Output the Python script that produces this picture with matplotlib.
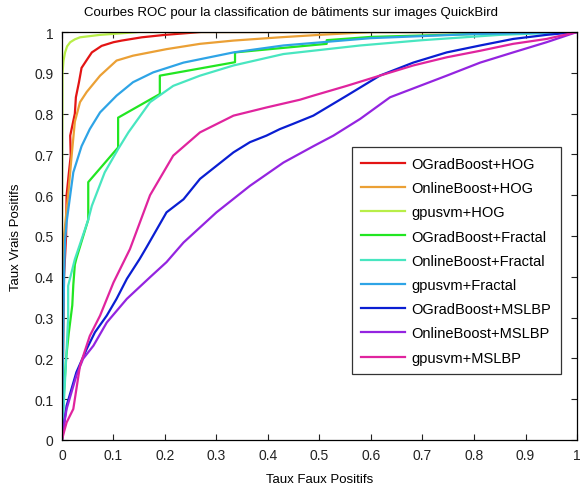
import numpy as np
import matplotlib
matplotlib.use("Agg")
import matplotlib.pyplot as plt

labels = ["OGradBoost+HOG", "OnlineBoost+HOG", "gpusvm+HOG",
          "OGradBoost+Fractal", "OnlineBoost+Fractal", "gpusvm+Fractal",
          "OGradBoost+MSLBP", "OnlineBoost+MSLBP", "gpusvm+MSLBP"]
colors = ["#e31414", "#eba035", "#b8ee48", "#22e622", "#48e6c0",
          "#2ea4e6", "#0a1ed2", "#9424e0", "#e0249e"]

# (false positive rate, true positive rate)
fpr_ograd_hog = [0, 0.002, 0.004, 0.008, 0.009, 0.013, 0.017, 0.016, 0.025, 0.027,
                 0.033, 0.038, 0.05, 0.058, 0.077, 0.1, 0.116, 0.155, 0.2, 0.27, 1.0]
tpr_ograd_hog = [0, 0.2, 0.4, 0.5, 0.6, 0.65, 0.697, 0.746, 0.8, 0.84,
                 0.877, 0.912, 0.935, 0.95, 0.966, 0.975, 0.979, 0.987, 0.993, 1.0, 1.0]

fpr_online_hog = [0, 0.001, 0.003, 0.012, 0.019, 0.025, 0.035, 0.048, 0.074, 0.106,
                  0.138, 0.203, 0.268, 0.333, 0.423, 0.5, 0.6, 1.0]
tpr_online_hog = [0, 0.2, 0.49, 0.6, 0.70, 0.78, 0.828, 0.853, 0.893, 0.93,
                  0.942, 0.958, 0.971, 0.979, 0.987, 0.993, 1.0, 1.0]

fpr_gpu_hog = [0, 0.0, 0.001, 0.003, 0.006, 0.01, 0.016, 0.025, 0.035, 0.074, 0.15, 1.0]
tpr_gpu_hog = [0, 0.5, 0.9, 0.93, 0.95, 0.965, 0.975, 0.982, 0.987, 0.993, 1.0, 1.0]

fpr_ograd_fr = [0, 0.003, 0.008, 0.013, 0.02, 0.022, 0.025, 0.028, 0.051, 0.051,
                0.109, 0.109, 0.19, 0.19, 0.336, 0.336, 0.514, 0.514, 0.6, 0.8, 1.0]
tpr_ograd_fr = [0, 0.1, 0.2, 0.26, 0.33, 0.38, 0.43, 0.445, 0.54, 0.632,
                0.717, 0.79, 0.848, 0.893, 0.926, 0.95, 0.971, 0.98, 0.988, 0.995, 1.0]

fpr_online_fr = [0, 0.004, 0.009, 0.012, 0.012, 0.025, 0.051, 0.058, 0.083, 0.109,
                 0.129, 0.171, 0.216, 0.268, 0.333, 0.43, 0.579, 0.7, 0.85, 1.0]
tpr_online_fr = [0, 0.1, 0.22, 0.3, 0.378, 0.443, 0.54, 0.574, 0.656, 0.713,
                 0.754, 0.828, 0.868, 0.893, 0.918, 0.946, 0.967, 0.98, 0.993, 1.0]

fpr_gpu_fr = [0, 0.002, 0.004, 0.006, 0.009, 0.016, 0.022, 0.038, 0.054, 0.074, 0.106,
              0.138, 0.177, 0.236, 0.333, 0.43, 0.6, 0.8, 1.0]
tpr_gpu_fr = [0, 0.2, 0.4, 0.49, 0.534, 0.6, 0.656, 0.72, 0.762, 0.803, 0.844,
              0.877, 0.901, 0.925, 0.95, 0.967, 0.985, 0.995, 1.0]

fpr_ograd_ms = [0, 0.003, 0.009, 0.028, 0.048, 0.064, 0.087, 0.106, 0.126, 0.151,
                0.164, 0.203, 0.236, 0.268, 0.3, 0.333, 0.365, 0.397, 0.423, 0.449,
                0.488, 0.553, 0.617, 0.682, 0.747, 0.812, 0.876, 0.941, 1.0]
tpr_ograd_ms = [0, 0.03, 0.084, 0.166, 0.223, 0.264, 0.305, 0.346, 0.395, 0.444,
                0.472, 0.558, 0.59, 0.64, 0.672, 0.705, 0.73, 0.746, 0.762, 0.775,
                0.795, 0.844, 0.893, 0.925, 0.95, 0.967, 0.983, 0.993, 1.0]

fpr_online_ms = [0, 0.003, 0.009, 0.028, 0.041, 0.061, 0.087, 0.126, 0.171, 0.203,
                 0.236, 0.3, 0.365, 0.43, 0.488, 0.527, 0.579, 0.637, 0.747, 0.812,
                 0.876, 0.941, 1.0]
tpr_online_ms = [0, 0.03, 0.076, 0.158, 0.199, 0.231, 0.288, 0.346, 0.399, 0.436,
                 0.484, 0.558, 0.623, 0.68, 0.72, 0.746, 0.787, 0.84, 0.893, 0.925,
                 0.95, 0.975, 1.0]

fpr_gpu_ms = [0, 0.004, 0.009, 0.022, 0.035, 0.054, 0.074, 0.1, 0.132, 0.171,
              0.216, 0.268, 0.333, 0.397, 0.462, 0.488, 0.553, 0.617, 0.682, 0.747,
              0.812, 0.876, 0.941, 1.0]
tpr_gpu_ms = [0, 0.02, 0.043, 0.076, 0.182, 0.255, 0.305, 0.386, 0.468, 0.6,
              0.697, 0.754, 0.795, 0.815, 0.834, 0.844, 0.868, 0.893, 0.918, 0.938,
              0.954, 0.971, 0.983, 1.0]

curves = [(fpr_ograd_hog, tpr_ograd_hog), (fpr_online_hog, tpr_online_hog),
          (fpr_gpu_hog, tpr_gpu_hog), (fpr_ograd_fr, tpr_ograd_fr),
          (fpr_online_fr, tpr_online_fr), (fpr_gpu_fr, tpr_gpu_fr),
          (fpr_ograd_ms, tpr_ograd_ms), (fpr_online_ms, tpr_online_ms),
          (fpr_gpu_ms, tpr_gpu_ms)]

plt.rcParams["font.family"] = ["Liberation Sans", "DejaVu Sans"]

fig = plt.figure(figsize=(5.88, 4.89), dpi=100)
ax = fig.add_axes([0.1054, 0.0982, 0.8759, 0.8343])

for (x, y), lab, col in zip(curves, labels, colors):
    ax.plot(x, y, color=col, lw=1.6, label=lab)

ticks = np.arange(0, 1.01, 0.1)
ticklabels = ["0"] + ["%.1f" % t for t in ticks[1:-1]] + ["1"]
ax.set_xlim(0, 1)
ax.set_ylim(0, 1)
ax.set_xticks(ticks)
ax.set_yticks(ticks)
ax.set_xticklabels(ticklabels)
ax.set_yticklabels(ticklabels)
ax.tick_params(direction="in", top=True, right=True, length=4, labelsize=10,
               colors="#222222", pad=6)
for s in ax.spines.values():
    s.set_linewidth(0.9)

# title sits a bit left of the axes centre in the original
fig.text(291 / 588, 1 - 13 / 489, "Courbes ROC pour la classification de bâtiments sur images QuickBird",
         fontsize=9.5, ha="center", va="center")
ax.set_xlabel("Taux Faux Positifs", fontsize=9.5, labelpad=8)
ax.set_ylabel("Taux Vrais Positifs", fontsize=9.5, labelpad=9)

leg = ax.legend(loc="upper left", bbox_to_anchor=(0.5625, 0.717), fontsize=10.5,
                handlelength=3.0, labelspacing=0.7, borderpad=0.65,
                handletextpad=0.45, fancybox=False, framealpha=1, borderaxespad=0)
leg.get_frame().set_edgecolor("#333333")
leg.get_frame().set_linewidth(0.9)

fig.savefig("out.png", dpi=100)
